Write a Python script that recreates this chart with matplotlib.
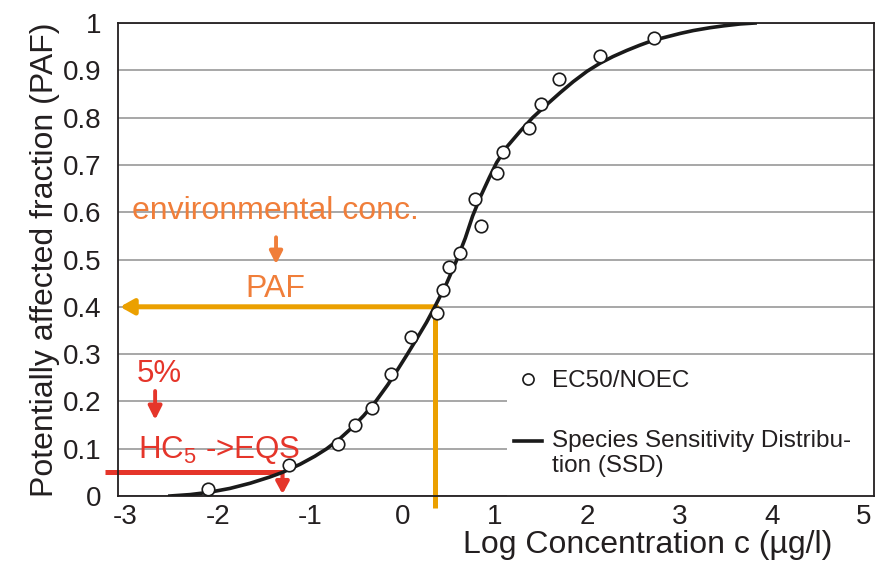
import matplotlib
matplotlib.use("Agg")
import matplotlib.pyplot as plt
from matplotlib.patches import Rectangle
from matplotlib.lines import Line2D
from matplotlib.legend_handler import HandlerLine2D

plt.rcParams['font.family'] = ['Liberation Sans', 'DejaVu Sans']
plt.rcParams['axes.unicode_minus'] = False
plt.rcParams['mathtext.fontset'] = 'custom'
plt.rcParams['mathtext.rm'] = 'Liberation Sans'
plt.rcParams['mathtext.default'] = 'regular'

# toxicity data: log concentration vs. plotting position
test_x = [-2.11, -1.23, -0.70, -0.51, -0.33, -0.12, 0.09, 0.37, 0.44, 0.50,
          0.62, 0.85, 0.79, 1.02, 1.09, 1.37, 1.50, 1.70, 2.14, 2.72]
test_paf = [0.015, 0.066, 0.110, 0.150, 0.186, 0.258, 0.336, 0.387, 0.436, 0.484,
            0.514, 0.571, 0.628, 0.683, 0.727, 0.778, 0.829, 0.882, 0.930, 0.968]

# fitted SSD curve
ssd_x = [-2.52, -2.30, -2.09, -1.87, -1.65, -1.44, -1.30, -1.11, -0.95, -0.82,
         -0.68, -0.55, -0.42, -0.29, -0.16, -0.05, 0.05, 0.15, 0.26, 0.35,
         0.47, 0.59, 0.68, 0.76, 0.85, 0.94, 1.02, 1.13, 1.27, 1.41,
         1.56, 1.71, 1.85, 2.00, 2.14, 2.28, 2.43, 2.57, 2.71, 2.87,
         3.01, 3.15, 3.33, 3.48, 3.66, 3.82]
ssd_paf = [0.000, 0.003, 0.008, 0.016, 0.027, 0.040, 0.050, 0.067, 0.084, 0.100,
           0.121, 0.144, 0.170, 0.200, 0.235, 0.268, 0.299, 0.331, 0.367, 0.400,
           0.446, 0.500, 0.545, 0.592, 0.635, 0.673, 0.705, 0.738, 0.770, 0.800,
           0.827, 0.853, 0.876, 0.898, 0.915, 0.929, 0.942, 0.953, 0.963, 0.971,
           0.978, 0.984, 0.990, 0.994, 0.998, 1.000]

env_conc = 0.35
env_paf = 0.4
hc5_conc = -1.30
hc5_paf = 0.05

x_ticks = [-3, -2, -1, 0, 1, 2, 3, 4, 5]
y_ticks = [0, 0.1, 0.2, 0.3, 0.4, 0.5, 0.6, 0.7, 0.8, 0.9, 1.0]
y_labels = ['0', '0.1', '0.2', '0.3', '0.4', '0.5', '0.6', '0.7', '0.8', '0.9', '1']

orange = '#F07E3A'
yellow = '#EBA000'
red = '#E5352A'
dark = '#231F20'


class FirstLineHandler(HandlerLine2D):
    # put the line sample next to the first row of a two-line label
    def create_artists(self, legend, orig_handle, xdescent, ydescent, width, height,
                       fontsize, trans):
        arts = super().create_artists(legend, orig_handle, xdescent, ydescent, width,
                                      height, fontsize, trans)
        for a in arts:
            a.set_ydata([y + 0.52 * fontsize for y in a.get_ydata()])
        return arts


fig = plt.figure(figsize=(8.77, 5.63), dpi=100)
ax = fig.add_axes([118/877, 67/563, 756/877, 473/563])
ax.set_xlim(-3.082, 5.108)
ax.set_ylim(0, 1.0)

ax.set_xticks(x_ticks)
ax.set_xticklabels([str(t) for t in x_ticks])
ax.set_yticks(y_ticks)
ax.set_yticklabels(y_labels)
ax.tick_params(length=0, labelsize=20, colors=dark)
ax.tick_params(axis='x', pad=6)
ax.tick_params(axis='y', pad=12)
ax.grid(axis='y', color='#A0A0A0', lw=1.3)
ax.set_axisbelow(True)
for s in ax.spines.values():
    s.set_color(dark)
    s.set_linewidth(1.3)

ax.set_ylabel('Potentially affected fraction (PAF)', fontsize=23, color=dark)
ax.set_xlabel('Log Concentration c (µg/l)', fontsize=23, color=dark)
ax.xaxis.set_label_coords(0.70, -0.071)
ax.yaxis.set_label_coords(-0.077, 0.5)

# white area behind the legend
ax.add_patch(Rectangle((0.515, 0), 0.485, 0.296, transform=ax.get_yaxis_transform(),
                       facecolor='white', edgecolor='none', zorder=1))

# environmental concentration -> PAF
ax.plot([env_conc, env_conc], [env_paf, -0.025], color=yellow, lw=3.6,
        solid_capstyle='butt', clip_on=False, zorder=2)
ax.annotate('', xy=(-3.06, env_paf), xytext=(env_conc + 0.02, env_paf),
            arrowprops=dict(arrowstyle='-|>,head_length=0.8,head_width=0.45',
                            color=yellow, lw=3.6, mutation_scale=10, shrinkA=0, shrinkB=0),
            zorder=2, annotation_clip=False)

# HC5
ax.plot([-3.22, hc5_conc], [hc5_paf, hc5_paf], color=red, lw=3.6,
        solid_capstyle='butt', clip_on=False, zorder=2)
ax.annotate('', xy=(hc5_conc, 0.004), xytext=(hc5_conc, hc5_paf),
            arrowprops=dict(arrowstyle='-|>,head_length=0.7,head_width=0.38',
                            color=red, lw=3, mutation_scale=10, shrinkA=0, shrinkB=0),
            zorder=2, annotation_clip=False)

ax.plot(ssd_x, ssd_paf, color='#1a1a1a', lw=2.6, zorder=3,
        label='Species Sensitivity Distribu-\ntion (SSD)')
ax.plot(test_x, test_paf, 'o', ms=9, mfc='white', mec='#1a1a1a', mew=1.2, zorder=4,
        label='EC50/NOEC')

# annotations
ax.text(-1.38, 0.586, 'environmental conc.', color=orange, fontsize=23,
        ha='center', va='baseline')
ax.annotate('', xy=(-1.37, 0.490), xytext=(-1.37, 0.547),
            arrowprops=dict(arrowstyle='-|>,head_length=0.75,head_width=0.38',
                            color=orange, lw=2.8, mutation_scale=10, shrinkA=0, shrinkB=0))
ax.text(-1.38, 0.421, 'PAF', color=orange, fontsize=23, ha='center', va='baseline')

ax.text(-2.63, 0.241, '5%', color=red, fontsize=22.5, ha='center', va='baseline')
ax.annotate('', xy=(-2.68, 0.161), xytext=(-2.68, 0.222),
            arrowprops=dict(arrowstyle='-|>,head_length=0.8,head_width=0.4',
                            color=red, lw=2.8, mutation_scale=10, shrinkA=0, shrinkB=0))
ax.text(-2.87, 0.080, 'HC$_5$ ->EQS', color=red, fontsize=22.5, ha='left', va='baseline')

h_pts = Line2D([], [], marker='o', ls='none', ms=8, mfc='white', mec='#1a1a1a', mew=1.2)
h_ssd = Line2D([], [], color='#1a1a1a', lw=2.6)
ax.legend([h_pts, h_ssd], ['EC50/NOEC', 'Species Sensitivity Distribu-\ntion (SSD)'],
          handler_map={h_ssd: FirstLineHandler()},
          loc='upper left', bbox_to_anchor=(0.508, 0.292), frameon=False,
          fontsize=17.5, handlelength=1.15, handletextpad=0.4, borderpad=0,
          labelspacing=1.55, labelcolor=dark)

fig.savefig('out.png', dpi=100)
